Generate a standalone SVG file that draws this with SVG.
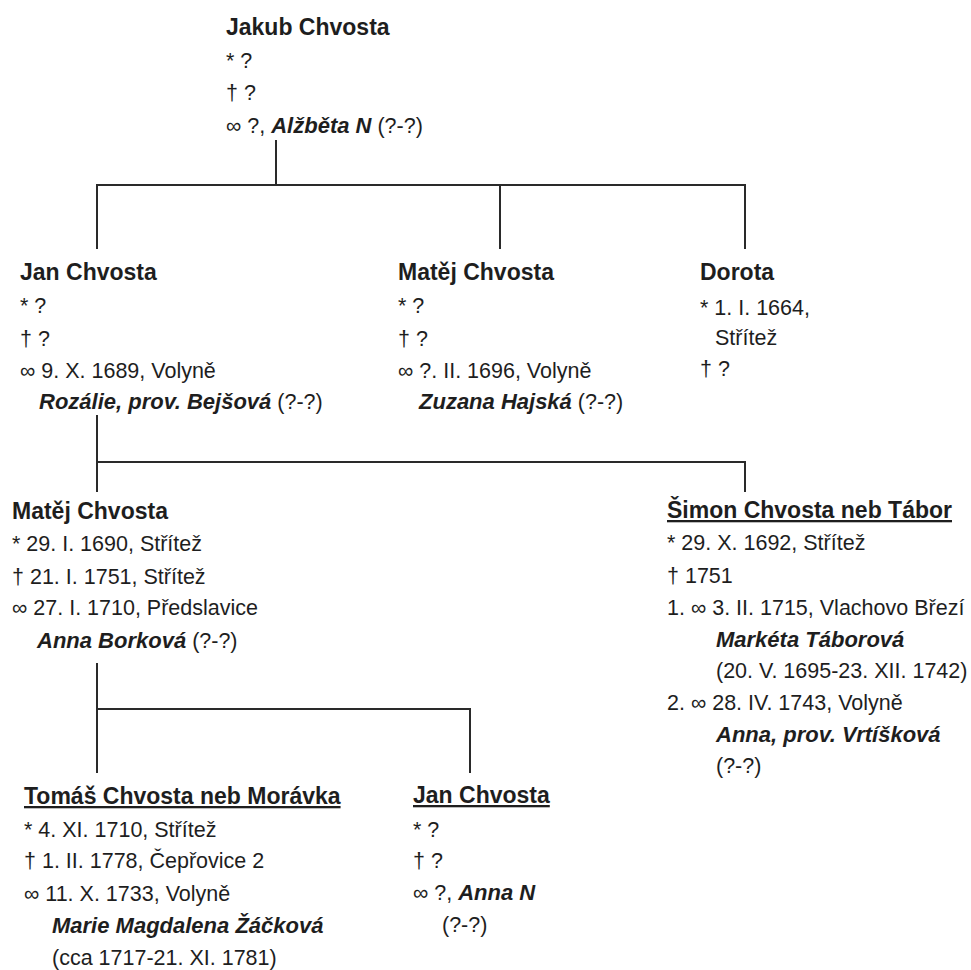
<svg xmlns="http://www.w3.org/2000/svg" width="971" height="970" viewBox="0 0 971 970">
<style>
text{font-family:"Liberation Sans",Arial,sans-serif;font-size:21.5px;fill:#1e1e1e}
.t{font-weight:bold;font-size:23px}
.u{text-decoration:underline}
.bi{font-weight:bold;font-style:italic;font-size:22px}
.c{fill:none;stroke:#2a2a2a;stroke-width:2}
</style>
<rect width="971" height="970" fill="#fff"/>
<g id="connectors" class="c">
<path d="M276 140V185M97 249V185H745V249M500 185V249"/>
<path d="M97 415V492M97 462H745V492"/>
<path d="M97 663V773M97 709H470V773"/>
</g>
<g id="jakub">
<text class="t" x="226" y="35">Jakub Chvosta</text>
<text x="226" y="68">* ?</text>
<text x="226" y="100">† ?</text>
<text x="226" y="133">∞ ?, <tspan class="bi">Alžběta N</tspan> (?-?)</text>
</g>
<g id="jan1">
<text class="t" x="20" y="280">Jan Chvosta</text>
<text x="20" y="313">* ?</text>
<text x="20" y="346">† ?</text>
<text x="20" y="378">∞ 9. X. 1689, Volyně</text>
<text x="39" y="409"><tspan class="bi">Rozálie, prov. Bejšová</tspan> (?-?)</text>
</g>
<g id="matej1">
<text class="t" x="398" y="280">Matěj Chvosta</text>
<text x="398" y="313">* ?</text>
<text x="398" y="346">† ?</text>
<text x="398" y="378">∞ ?. II. 1696, Volyně</text>
<text x="419" y="409"><tspan class="bi">Zuzana Hajská</tspan> (?-?)</text>
</g>
<g id="dorota">
<text class="t" x="700" y="280">Dorota</text>
<text x="700" y="315">* 1. I. 1664,</text>
<text x="715" y="345">Střítež</text>
<text x="700" y="376">† ?</text>
</g>
<g id="matej2">
<text class="t" x="12" y="519">Matěj Chvosta</text>
<text x="12" y="551">* 29. I. 1690, Střítež</text>
<text x="12" y="584">† 21. I. 1751, Střítež</text>
<text x="12" y="615">∞ 27. I. 1710, Předslavice</text>
<text x="37" y="648"><tspan class="bi">Anna Borková</tspan> (?-?)</text>
</g>
<g id="simon">
<text class="t u" x="667" y="518">Šimon Chvosta neb Tábor</text>
<text x="667" y="550">* 29. X. 1692, Střítež</text>
<text x="667" y="583">† 1751</text>
<text x="667" y="615">1. ∞ 3. II. 1715, Vlachovo Březí</text>
<text class="bi" x="716" y="647">Markéta Táborová</text>
<text x="716" y="678">(20. V. 1695-23. XII. 1742)</text>
<text x="667" y="710">2. ∞ 28. IV. 1743, Volyně</text>
<text class="bi" x="716" y="742">Anna, prov. Vrtíšková</text>
<text x="716" y="773">(?-?)</text>
</g>
<g id="tomas">
<text class="t u" x="24" y="804">Tomáš Chvosta neb Morávka</text>
<text x="24" y="837">* 4. XI. 1710, Střítež</text>
<text x="24" y="868">† 1. II. 1778, Čepřovice 2</text>
<text x="24" y="901">∞ 11. X. 1733, Volyně</text>
<text class="bi" x="52" y="933">Marie Magdalena Žáčková</text>
<text x="52" y="965">(cca 1717-21. XI. 1781)</text>
</g>
<g id="jan2">
<text class="t u" x="413" y="803">Jan Chvosta</text>
<text x="413" y="837">* ?</text>
<text x="413" y="868">† ?</text>
<text x="413" y="900">∞ ?, <tspan class="bi">Anna N</tspan></text>
<text x="442" y="932">(?-?)</text>
</g>
</svg>
